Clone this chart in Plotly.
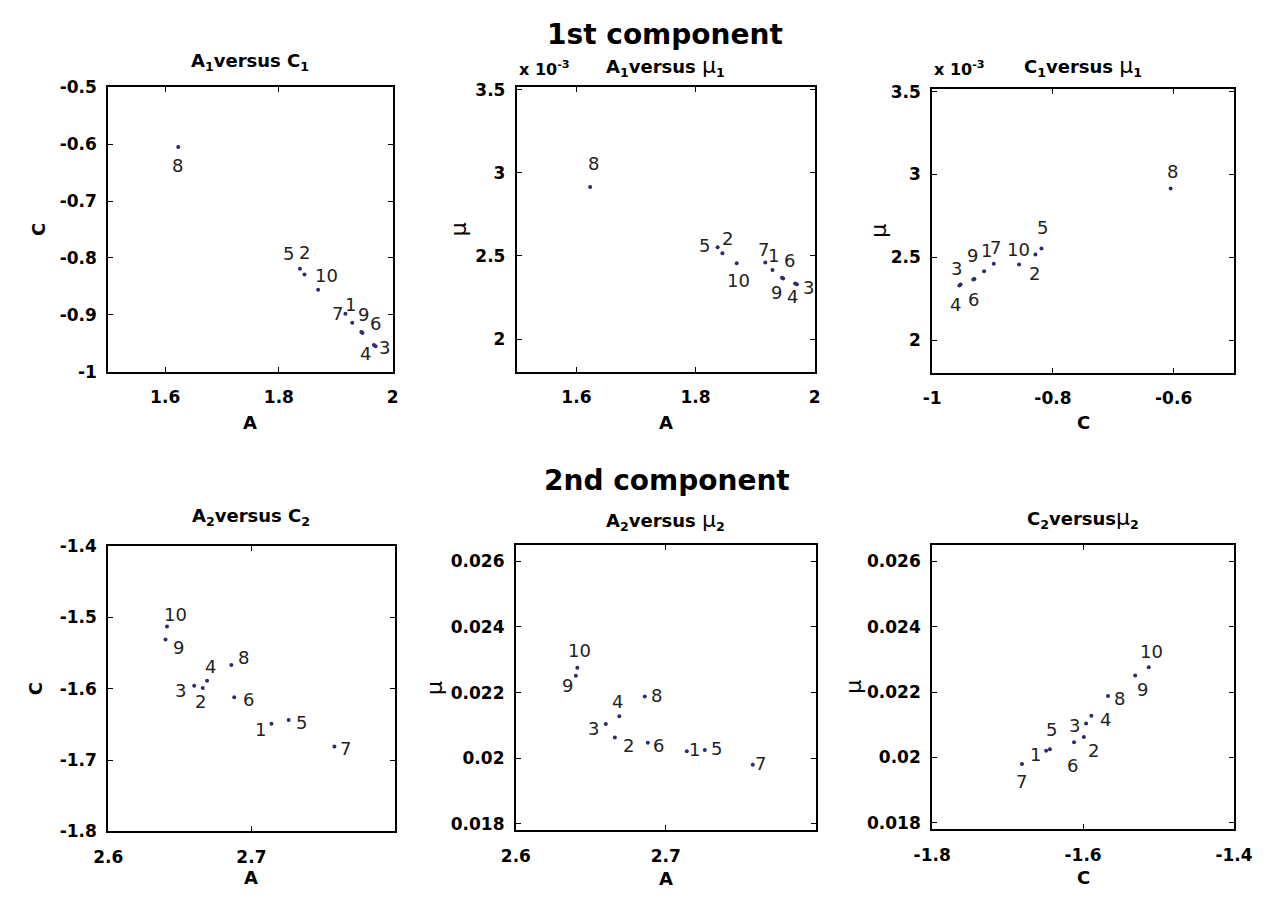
import plotly.graph_objects as go

# ---------------- data ----------------
labels = [str(i) for i in range(1, 11)]

# 1st component
A1 = [1.929, 1.845, 1.970, 1.967, 1.837, 1.947, 1.917, 1.623, 1.945, 1.869]
C1 = [-0.914, -0.829, -0.955, -0.953, -0.819, -0.932, -0.898, -0.605, -0.930, -0.856]
mu1 = [0.002416, 0.002516, 0.002330, 0.002335, 0.002553, 0.002365, 0.002461, 0.002915, 0.002369, 0.002456]

# 2nd component
A2 = [2.714, 2.666, 2.660, 2.669, 2.726, 2.688, 2.758, 2.686, 2.640, 2.641]
C2 = [-1.649, -1.599, -1.596, -1.589, -1.644, -1.612, -1.681, -1.567, -1.531, -1.513]
mu2 = [0.02021, 0.02063, 0.02104, 0.02128, 0.02025, 0.02047, 0.01980, 0.02188, 0.02251, 0.02276]

# tick labels
xt_A1 = [1.6, 1.8, 2.0]; xtt_A1 = ["1.6", "1.8", "2"]
xt_C1 = [-1.0, -0.8, -0.6]; xtt_C1 = ["-1", "-0.8", "-0.6"]
yt_C1 = [-1.0, -0.9, -0.8, -0.7, -0.6, -0.5]; ytt_C1 = ["-1", "-0.9", "-0.8", "-0.7", "-0.6", "-0.5"]
yt_mu1 = [0.002, 0.0025, 0.003, 0.0035]; ytt_mu1 = ["2", "2.5", "3", "3.5"]
xt_A2 = [2.6, 2.7]; xtt_A2 = ["2.6", "2.7"]
xt_C2 = [-1.8, -1.6, -1.4]; xtt_C2 = ["-1.8", "-1.6", "-1.4"]
yt_C2 = [-1.8, -1.7, -1.6, -1.5, -1.4]; ytt_C2 = ["-1.8", "-1.7", "-1.6", "-1.5", "-1.4"]
yt_mu2 = [0.018, 0.020, 0.022, 0.024, 0.026]; ytt_mu2 = ["0.018", "0.02", "0.022", "0.024", "0.026"]

# ---------------- layout helpers ----------------
W, H = 1286, 905
FONT = "DejaVu Sans"


def px(x):
    return x / W


def py(y):
    return 1 - y / H


def bold(size):
    return dict(family=FONT, size=size, color="black", weight="bold")


# label offsets in screen pixels (dx right, dy down) for points 1..10
off1 = [(-2, -18), (0, -22), (9, 1), (-8, 8), (-11, -15), (13, -10), (-8, 0), (-1, 18), (2, -17), (8, -14)]
off2 = [(1, -14), (5, -15), (12, 3), (-3, 13), (-13, -2), (6, -18), (-2, -13), (3, -23), (-6, 15), (2, 17)]
off3 = [(2, -21), (-1, 19), (-3, -17), (-5, 20), (1, -21), (0, 20), (2, -16), (2, -17), (-2, -23), (-1, -15)]
off4 = [(-11, 6), (-2, 14), (-14, 5), (3, -14), (13, 2), (14, 2), (11, 2), (12, -8), (13, 8), (9, -12)]
off5 = [(8, -2), (14, 8), (-12, 4), (-2, -15), (12, -2), (11, 3), (8, -1), (12, -1), (-8, 10), (2, -17)]
off6 = [(-11, 4), (10, 14), (-12, 2), (14, 4), (2, -20), (-2, 23), (0, 17), (12, 2), (7, 14), (3, -16)]

MU = "<span style='font-weight:normal;font-size:22px'>μ</span>"

panels = [
    dict(x=A1, y=C1, box=(92, 385, 79, 370), xr=[1.5, 2.0], yr=[-1.0, -0.5],
         xt=xt_A1, xtt=xtt_A1, yt=yt_C1, ytt=ytt_C1, off=off1,
         title="A<sub>1</sub>versus C<sub>1</sub>", ty=53,
         xlab="A", xly=422, ylab="C", ylx=20, exp=False),
    dict(x=A1, y=mu1, box=(513, 820, 79, 370), xr=[1.5, 2.0], yr=[0.001804, 0.003514],
         xt=xt_A1, xtt=xtt_A1, yt=yt_mu1, ytt=ytt_mu1, off=off2,
         title="A<sub>1</sub>versus " + MU + "<sub>1</sub>", ty=58,
         xlab="A", xly=422, ylab="μ", ylx=453, exp=True),
    dict(x=C1, y=mu1, box=(941, 1252, 81, 371), xr=[-1.0, -0.5], yr=[0.001802, 0.003515],
         xt=xt_C1, xtt=xtt_C1, yt=yt_mu1, ytt=ytt_mu1, off=off3,
         title="C<sub>1</sub>versus " + MU + "<sub>1</sub>", ty=58,
         xlab="C", xly=422, ylab="μ", ylx=885, exp=True),
    dict(x=A2, y=C2, box=(92, 387, 548, 840), xr=[2.6, 2.8], yr=[-1.8, -1.4],
         xt=xt_A2, xtt=xtt_A2, yt=yt_C2, ytt=ytt_C2, off=off4,
         title="A<sub>2</sub>versus C<sub>2</sub>", ty=518,
         xlab="A", xly=887, ylab="C", ylx=17, exp=False),
    dict(x=A2, y=mu2, box=(512, 821, 547, 839), xr=[2.6, 2.8], yr=[0.0178, 0.0265],
         xt=xt_A2, xtt=xtt_A2, yt=yt_mu2, ytt=ytt_mu2, off=off5,
         title="A<sub>2</sub>versus " + MU + "<sub>2</sub>", ty=522,
         xlab="A", xly=888, ylab="μ", ylx=428, exp=False),
    dict(x=C2, y=mu2, box=(941, 1252, 547, 838), xr=[-1.8, -1.4], yr=[0.0178, 0.0265],
         xt=xt_C2, xtt=xtt_C2, yt=yt_mu2, ytt=ytt_mu2, off=off6,
         title="C<sub>2</sub>versus" + MU + "<sub>2</sub>", ty=520,
         xlab="C", xly=887, ylab="μ", ylx=860, exp=False),
]

fig = go.Figure()
layout = dict(width=W, height=H, margin=dict(l=0, r=0, t=0, b=0),
              paper_bgcolor="white", plot_bgcolor="white", showlegend=False,
              font=dict(family=FONT, color="black"))
annotations = []

for i, p in enumerate(panels, start=1):
    sx = "" if i == 1 else str(i)
    l, r, t, b = p["box"]
    fig.add_trace(go.Scatter(
        x=p["x"], y=p["y"], mode="markers",
        marker=dict(size=4, color="#2b2b6e"),
        xaxis="x" + sx, yaxis="y" + sx, hoverinfo="skip", showlegend=False))

    common = dict(showline=True, linecolor="black", linewidth=2, mirror="ticks",
                  ticks="inside", ticklen=5, tickwidth=1, tickcolor="black",
                  showgrid=False, zeroline=False, fixedrange=True,
                  tickfont=bold(17))
    layout["xaxis" + sx] = dict(common, domain=[px(l), px(r)], range=p["xr"],
                                tickmode="array", tickvals=p["xt"], ticktext=p["xtt"],
                                anchor="y" + sx, ticklabelstandoff=9)
    layout["yaxis" + sx] = dict(common, domain=[py(b), py(t)], range=p["yr"],
                                tickmode="array", tickvals=p["yt"], ticktext=p["ytt"],
                                anchor="x" + sx, ticklabelstandoff=6)

    # point labels
    for k, lab in enumerate(labels):
        dx, dy = p["off"][k]
        annotations.append(dict(
            x=p["x"][k], y=p["y"][k], xref="x" + sx, yref="y" + sx,
            text=lab, showarrow=False, xshift=dx, yshift=-dy,
            xanchor="center", yanchor="middle",
            font=dict(family=FONT, size=18, color="#222222")))

    # subplot title
    annotations.append(dict(x=px((l + r) / 2), y=py(p["ty"]), xref="paper", yref="paper",
                            text=p["title"], showarrow=False, xanchor="center", yanchor="middle",
                            font=bold(18)))
    # x-axis title
    annotations.append(dict(x=px((l + r) / 2), y=py(p["xly"]), xref="paper", yref="paper",
                            text=p["xlab"], showarrow=False,
                            xanchor="center", yanchor="middle", font=bold(18)))
    # y-axis title
    if p["ylab"] == "μ":
        yfont = dict(family=FONT, size=22, color="black")
    else:
        yfont = bold(18)
    annotations.append(dict(x=px(p["ylx"]), y=py((t + b) / 2), xref="paper", yref="paper",
                            text=p["ylab"], textangle=-90, showarrow=False,
                            xanchor="center", yanchor="middle", font=yfont))
    # exponent label
    if p["exp"]:
        annotations.append(dict(x=px(l), y=py(60), xref="paper", yref="paper",
                                text="x 10<sup>-3</sup>", showarrow=False,
                                xanchor="left", yanchor="middle", font=bold(16)))

# main titles
annotations.append(dict(x=px(666), y=py(25), xref="paper", yref="paper",
                        text="1st component", showarrow=False,
                        xanchor="center", yanchor="middle", font=bold(28)))
annotations.append(dict(x=px(668), y=py(481), xref="paper", yref="paper",
                        text="2nd component", showarrow=False,
                        xanchor="center", yanchor="middle", font=bold(28)))

layout["annotations"] = annotations
fig.update_layout(**layout)
fig.write_html("out.html")
